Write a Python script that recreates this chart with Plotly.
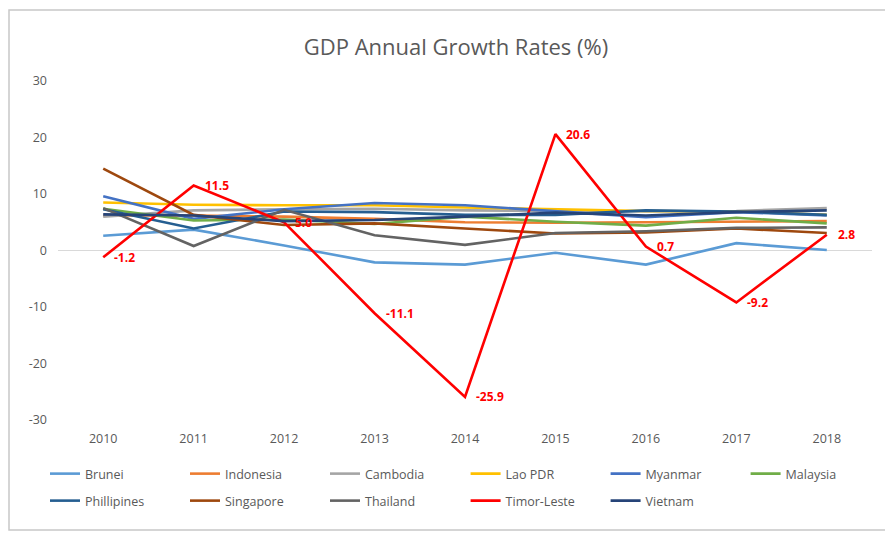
import plotly.graph_objects as go

years = [2010, 2011, 2012, 2013, 2014, 2015, 2016, 2017, 2018]

brunei      = [2.6, 3.7, 0.9, -2.1, -2.5, -0.4, -2.5, 1.3, 0.1]
indonesia   = [6.2, 6.2, 6.0, 5.6, 5.0, 4.9, 5.0, 5.1, 5.2]
cambodia    = [6.0, 7.1, 7.3, 7.4, 7.1, 7.0, 6.9, 7.0, 7.5]
lao_pdr     = [8.5, 8.1, 8.0, 8.0, 7.6, 7.3, 7.0, 6.9, 6.3]
myanmar     = [9.6, 5.6, 7.3, 8.4, 8.0, 7.0, 5.9, 6.8, 6.2]
malaysia    = [7.4, 5.3, 5.5, 4.7, 6.0, 5.1, 4.4, 5.8, 4.8]
philippines = [7.3, 3.9, 6.9, 6.8, 6.3, 6.3, 7.1, 6.9, 6.3]
singapore   = [14.5, 6.3, 4.5, 4.8, 3.9, 3.0, 3.2, 3.9, 3.1]
thailand    = [7.5, 0.8, 7.2, 2.7, 1.0, 3.1, 3.4, 4.0, 4.1]
timor_leste = [-1.2, 11.5, 5.0, -11.1, -25.9, 20.6, 0.7, -9.2, 2.8]
vietnam     = [6.4, 6.2, 5.2, 5.4, 6.0, 6.7, 6.2, 6.8, 7.1]

series_names = ["Brunei", "Indonesia", "Cambodia", "Lao PDR", "Myanmar", "Malaysia",
                "Phillipines", "Singapore", "Thailand", "Timor-Leste", "Vietnam"]
series_values = [brunei, indonesia, cambodia, lao_pdr, myanmar, malaysia,
                 philippines, singapore, thailand, timor_leste, vietnam]
series_colors = ["#5B9BD5", "#ED7D31", "#A5A5A5", "#FFC000", "#4472C4", "#70AD47",
                 "#255E91", "#9E480E", "#636363", "#FF0000", "#264478"]
legend_groups = ["legend", "legend", "legend", "legend2", "legend2", "legend2",
                 "legend3", "legend3", "legend3", "legend4", "legend4"]

y_ticks = [-30, -20, -10, 0, 10, 20, 30]
y_tick_labels = ["-30", "-20", "-10", "0", "10", "20", "30"]

FONT = "Open Sans"
W, H = 893, 533
OFF = 8          # page offset of the figure
H_EFF = H
# target plot area in screen pixels
PL, PR, PT, PB = 58, 872, 81, 420
ML = PL - OFF
MR = W - (PR - OFF)
MT = PT - OFF
MB = H_EFF - (PB - OFF)
pw, ph = PR - PL, PB - PT

def px_x(p):
    return (p - PL) / pw

def px_y(p):
    return (PB - p) / ph

def cx(p):
    return (p - OFF) / W

def cy(p):
    return 1 - (p - OFF) / H_EFF

fig = go.Figure()
for name, vals, col, lg in zip(series_names, series_values, series_colors, legend_groups):
    fig.add_trace(go.Scatter(
        x=years, y=vals, name=name, mode="lines",
        line=dict(color=col, width=2.6), legend=lg,
    ))

for x, v in zip(years, timor_leste):
    fig.add_annotation(x=x, y=v, text=f"{v:.1f}", showarrow=False,
                       xanchor="left", yanchor="middle", xshift=9,
                       font=dict(family=FONT, size=12, color="#FF0000", weight="bold"))

# chart frame (left, top and bottom edges visible; right edge runs off the picture)
fig.add_shape(type="rect", xref="paper", yref="paper",
              x0=px_x(9), x1=px_x(1100), y0=px_y(530), y1=px_y(10),
              line=dict(color="#C8C8C8", width=1.5), fillcolor="rgba(0,0,0,0)", layer="below")

legend_common = dict(orientation="h", xref="container", yref="container",
                     xanchor="left", yanchor="middle",
                     entrywidth=95, entrywidthmode="pixels", itemwidth=30,
                     font=dict(family=FONT, size=12.5, color="#595959"),
                     tracegroupgap=0, bgcolor="rgba(0,0,0,0)")

fig.update_layout(
    width=W, height=H,
    margin=dict(l=ML, r=MR, t=MT, b=MB, autoexpand=False),
    paper_bgcolor="white", plot_bgcolor="white",
    title=dict(text="GDP Annual Growth Rates (%)", x=cx(456), xanchor="center",
               y=cy(47), yanchor="middle",
               font=dict(family=FONT, size=22, color="#595959")),
    font=dict(family=FONT, color="#595959"),
    xaxis=dict(range=[2009.5, 2018.5], tickvals=years, ticktext=[str(y) for y in years],
               showgrid=False, zeroline=False, showline=False, ticks="",
               ticklabelstandoff=9, tickfont=dict(size=12.5, color="#595959")),
    yaxis=dict(range=[-30, 30], tickvals=y_ticks, ticktext=y_tick_labels, showgrid=False,
               zeroline=True, zerolinecolor="#D9D9D9", zerolinewidth=1.2,
               showline=False, ticks="", ticklabelstandoff=10,
               tickfont=dict(size=12.5, color="#595959")),
    legend=dict(x=cx(45), y=cy(474), **legend_common),
    legend2=dict(x=cx(45 + 3 * 140.2), y=cy(474), **legend_common),
    legend3=dict(x=cx(45), y=cy(501), **legend_common),
    legend4=dict(x=cx(45 + 3 * 140.2), y=cy(501), **legend_common),
    showlegend=True,
)

fig.write_html("out.html")
